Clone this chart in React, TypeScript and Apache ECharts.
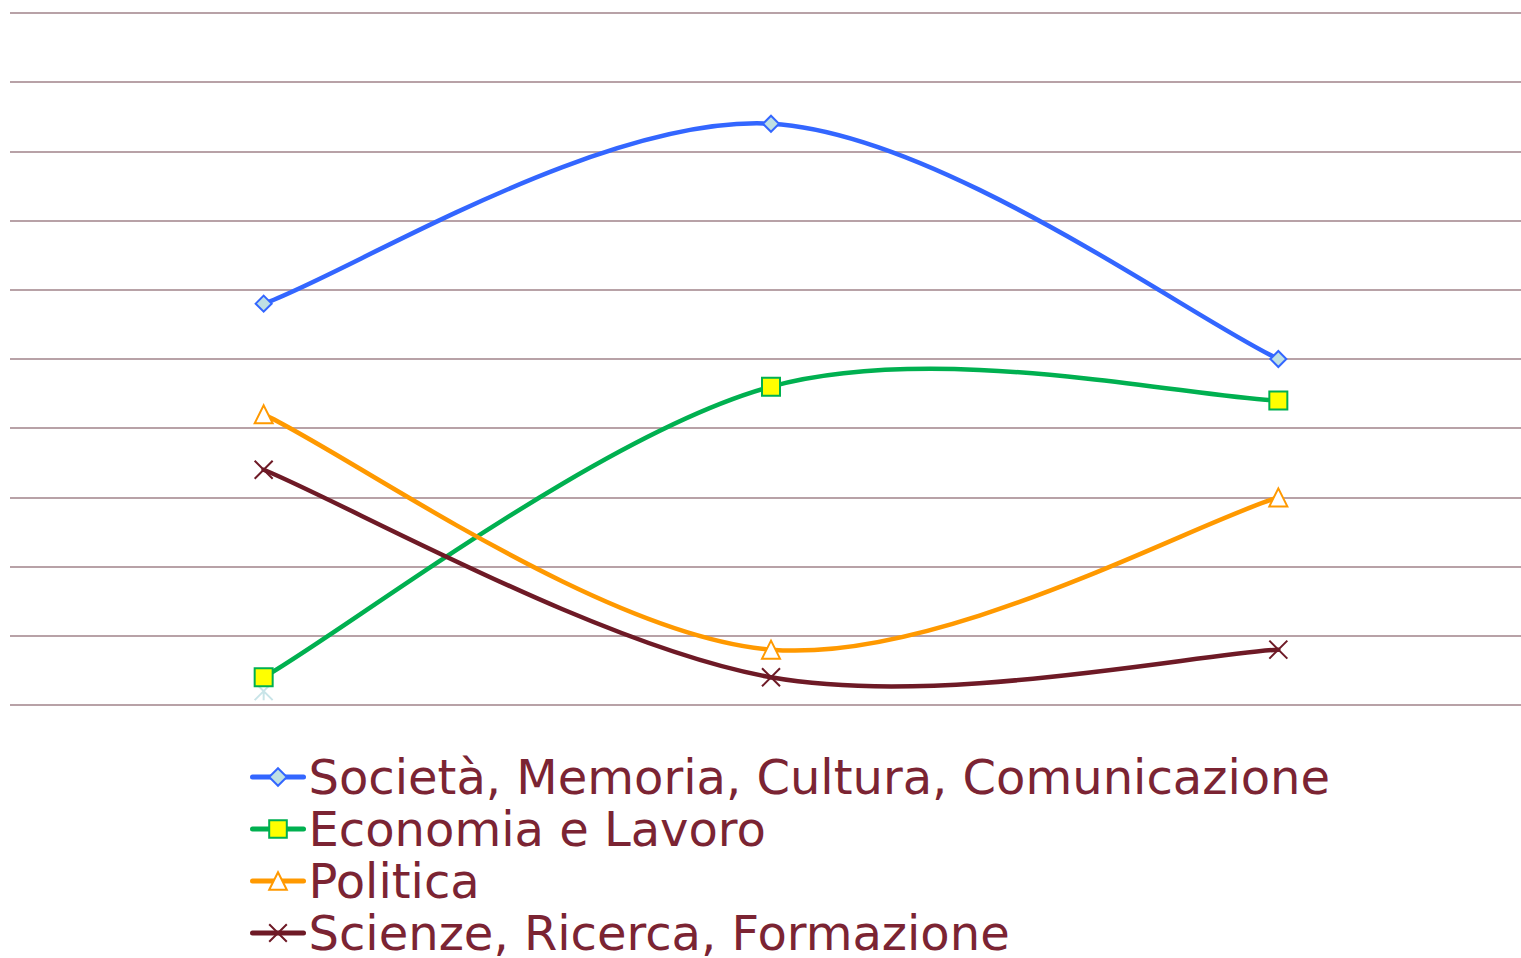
import React, { useEffect, useRef } from "react";
import * as echarts from "echarts";

const categories = ["1", "2", "3"];
const seriesNames = [
  "Società, Memoria, Cultura, Comunicazione",
  "Economia e Lavoro",
  "Politica",
  "Scienze, Ricerca, Formazione",
];
const societa = [29, 42, 25];
const economia = [2, 23, 22];
const politica = [21, 4, 15];
const scienze = [17, 2, 4];
const altro = [1, null, null];

const yMin = 0;
const yMax = 50;
const yInterval = 5;

const lineColors = ["#3366ff", "#00b050", "#ff9900", "#6e1a26"];

function smoothRender(values: number[], color: string) {
  return (params: any, api: any) => {
    if (params.dataIndex !== 0) return { type: "group", children: [] };
    const pts = values.map((v, i) => api.coord([i, v]));
    const children: any[] = [];
    for (let i = 0; i < pts.length - 1; i++) {
      const p0 = pts[Math.max(0, i - 1)];
      const p1 = pts[i];
      const p2 = pts[i + 1];
      const p3 = pts[Math.min(pts.length - 1, i + 2)];
      const cp1x = p1[0] + (p2[0] - p0[0]) / 6;
      const cp1y = p1[1] + (p2[1] - p0[1]) / 6;
      const cp2x = p2[0] - (p3[0] - p1[0]) / 6;
      const cp2y = p2[1] - (p3[1] - p1[1]) / 6;
      children.push({
        type: "bezierCurve",
        shape: {
          x1: p1[0], y1: p1[1], x2: p2[0], y2: p2[1],
          cpx1: cp1x, cpy1: cp1y, cpx2: cp2x, cpy2: cp2y,
        },
        style: { stroke: color, lineWidth: 4.5, fill: "none", lineCap: "round" },
      });
    }
    return { type: "group", children };
  };
}

export default function App() {
  const ref = useRef<HTMLDivElement>(null);
  useEffect(() => {
    if (!ref.current) return;
    const chart = echarts.init(ref.current, null, { renderer: "svg" });
    const xPath = "path://M0,0L10,10M10,0L0,10";
    const allValues = [societa, economia, politica, scienze];
    const markerDefs = [
      { symbol: "diamond", size: 16, item: { color: "#bfe0e3", borderColor: "#3366ff", borderWidth: 2 } },
      { symbol: "rect", size: 18, item: { color: "#ffff00", borderColor: "#00b050", borderWidth: 2 } },
      { symbol: "triangle", size: 18, item: { color: "#ffffff", borderColor: "#ff9900", borderWidth: 2 } },
      { symbol: xPath, size: 18, item: { color: "#6e1a26", borderColor: "#6e1a26", borderWidth: 2 } },
    ];
    const curveSeries = allValues.map((vals, k) => ({
      type: "custom",
      coordinateSystem: "cartesian2d",
      silent: true,
      data: vals.map((v, i) => [i, v]),
      encode: { x: 0, y: 1 },
      renderItem: smoothRender(vals, lineColors[k]),
      z: 2,
    }));
    const markerSeries = allValues.map((vals, k) => ({
      name: seriesNames[k],
      type: "line",
      data: vals,
      symbol: markerDefs[k].symbol,
      symbolSize: markerDefs[k].size,
      showAllSymbol: true,
      lineStyle: { color: lineColors[k], width: 0, opacity: 0 },
      itemStyle: markerDefs[k].item,
      z: 5,
    }));
    chart.setOption({
      animation: false,
      backgroundColor: "#ffffff",
      grid: { left: 10, top: 13, width: 1522, height: 692, containLabel: false },
      xAxis: {
        type: "category",
        data: categories,
        boundaryGap: true,
        axisLine: { show: false },
        axisTick: { show: false },
        axisLabel: { show: false },
        splitLine: { show: false },
      },
      yAxis: {
        type: "value",
        min: yMin,
        max: yMax,
        interval: yInterval,
        axisLine: { show: false },
        axisTick: { show: false },
        axisLabel: { show: false },
        splitLine: { show: true, lineStyle: { color: "#b8a2a7", width: 2 } },
      },
      legend: {
        orient: "vertical",
        left: 250,
        top: 753,
        padding: 0,
        itemWidth: 51,
        itemHeight: 22,
        itemGap: 4,
        textStyle: {
          fontFamily: "DejaVu Sans",
          fontSize: 48,
          color: "#7b2433",
        },
        data: seriesNames.map((n, k) => ({
          name: n,
          lineStyle: { color: lineColors[k], width: 5, opacity: 1, cap: "round" },
        })),
      },
      series: [
        ...curveSeries,
        ...markerSeries,
        {
          name: "altro",
          type: "line",
          data: altro,
          symbol: "path://M0,0L10,10M10,0L0,10M5,5L5,10",
          symbolSize: 18,
          lineStyle: { color: "#c8e4e8", width: 0 },
          itemStyle: { color: "#c8e4e8", borderColor: "#c8e4e8", borderWidth: 2 },
          z: 4,
        },
      ],
    });
    return () => chart.dispose();
  }, []);
  return (
    <div style={{ position: "absolute", left: 0, top: 0, width: 1521, height: 958, overflow: "hidden" }}>
      <div ref={ref} style={{ width: 1545, height: 958 }} />
    </div>
  );
}
